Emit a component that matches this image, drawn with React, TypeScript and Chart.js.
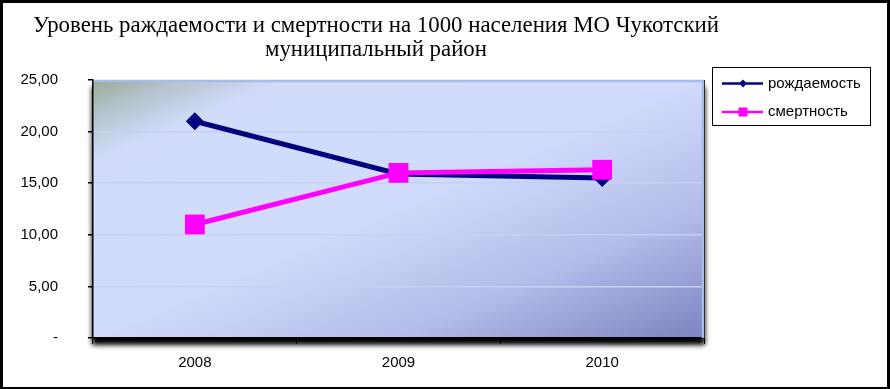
import React, { useEffect, useRef } from 'react';
import { Chart, registerables } from 'chart.js';

Chart.register(...registerables);

const TITLE_LINES = [
  'Уровень раждаемости и смертности на 1000 населения МО Чукотский',
  'муниципальный район',
];
const YEARS = ['2008', '2009', '2010'];
const BIRTH_RATE = [21.0, 15.9, 15.5];
const DEATH_RATE = [11.0, 16.0, 16.3];
const SERIES_NAMES = ['рождаемость', 'смертность'];
const SERIES_COLORS = ['#000080', '#ff00ff'];
const Y_MIN = 0;
const Y_MAX = 25;
const Y_STEP = 5;

const SANS = '"Liberation Sans", Arial, sans-serif';

const decorPlugin = {
  id: 'decor',
  beforeDraw(chart: any) {
    const { ctx, width, height, chartArea } = chart;
    const { left, top, right, bottom } = chartArea;
    const w = right - left;
    const h = bottom - top;
    ctx.save();
    ctx.fillStyle = '#ffffff';
    ctx.fillRect(0, 0, width, height);
    ctx.fillStyle = '#000000';
    ctx.fillRect(0, 0, width, 3);
    ctx.fillRect(0, 0, 3, height);
    ctx.fillRect(width - 3, 0, 3, height);
    ctx.fillRect(0, height - 2, width, 2);
    ctx.restore();

    // plot shadow
    ctx.save();
    ctx.shadowColor = 'rgba(0,0,0,1)';
    ctx.shadowBlur = 5;
    ctx.shadowOffsetX = 0;
    ctx.shadowOffsetY = 7;
    ctx.fillStyle = '#000000';
    ctx.fillRect(left - 1, top, w + 2, h);
    ctx.restore();

    // plot gradient
    ctx.save();
    ctx.translate(left, top);
    ctx.scale(w, h);
    const g = ctx.createLinearGradient(0, 0, 1, 1);
    g.addColorStop(0, '#97ab92');
    g.addColorStop(0.07, '#b4c3cc');
    g.addColorStop(0.16, '#d2dcfa');
    g.addColorStop(0.5, '#d0dafc');
    g.addColorStop(0.75, '#b3bbe8');
    g.addColorStop(1, '#7c84c2');
    ctx.fillStyle = g;
    ctx.fillRect(0, 0, 1, 1);
    ctx.restore();

    // title
    ctx.save();
    ctx.fillStyle = '#000000';
    ctx.font = '24px "Liberation Serif", "DejaVu Serif", serif';
    ctx.textAlign = 'center';
    ctx.textBaseline = 'alphabetic';
    const measured = ctx.measureText(TITLE_LINES[0]).width;
    const sx = 686 / measured;
    const baselines = [31.5, 55.5];
    TITLE_LINES.forEach((line, i) => {
      ctx.save();
      ctx.translate(376, baselines[i]);
      ctx.scale(sx, 1);
      ctx.fillText(line, 0, 0);
      ctx.restore();
    });
    ctx.restore();
  },
  beforeDatasetsDraw(chart: any) {
    const { ctx, chartArea } = chart;
    const { left, top, right, bottom } = chartArea;
    ctx.save();
    ctx.strokeStyle = '#a6bde9';
    ctx.lineWidth = 2.5;
    ctx.beginPath();
    ctx.moveTo(left + 1, top + 1);
    ctx.lineTo(right - 1, top + 1);
    ctx.lineTo(right - 1, bottom);
    ctx.stroke();
    ctx.restore();
  },
  afterDraw(chart: any) {
    const { ctx } = chart;
    ctx.save();
    ctx.fillStyle = '#ffffff';
    ctx.fillRect(712, 67, 159, 59);
    ctx.strokeStyle = '#000000';
    ctx.lineWidth = 1;
    ctx.strokeRect(712.5, 67.5, 158, 58);
    const rows = [83.5, 112];
    SERIES_NAMES.forEach((name, i) => {
      const y = rows[i];
      ctx.strokeStyle = SERIES_COLORS[i];
      ctx.fillStyle = SERIES_COLORS[i];
      ctx.lineWidth = 2.5;
      ctx.beginPath();
      ctx.moveTo(722, y);
      ctx.lineTo(763, y);
      ctx.stroke();
      if (i === 0) {
        ctx.beginPath();
        ctx.moveTo(743 - 4, y);
        ctx.lineTo(743, y - 4);
        ctx.lineTo(743 + 4, y);
        ctx.lineTo(743, y + 4);
        ctx.closePath();
        ctx.fill();
      } else {
        ctx.fillRect(743 - 4.5, y - 4.5, 9, 9);
      }
      ctx.fillStyle = '#000000';
      ctx.font = '15px ' + SANS;
      ctx.textAlign = 'left';
      ctx.textBaseline = 'middle';
      ctx.fillText(name, 768, y);
    });
    ctx.restore();
  },
};

export default function App() {
  const ref = useRef<HTMLCanvasElement | null>(null);
  useEffect(() => {
    if (!ref.current) return;
    Chart.defaults.font.family = SANS;
    const chart = new Chart(ref.current, {
      type: 'line',
      data: {
        labels: YEARS,
        datasets: [
          {
            label: SERIES_NAMES[0],
            data: BIRTH_RATE,
            borderColor: SERIES_COLORS[0],
            backgroundColor: SERIES_COLORS[0],
            borderWidth: 5,
            pointStyle: 'rectRot',
            pointRadius: 9,
            pointBorderWidth: 0,
            pointHoverRadius: 9,
            order: 2,
            tension: 0,
          },
          {
            label: SERIES_NAMES[1],
            data: DEATH_RATE,
            borderColor: SERIES_COLORS[1],
            backgroundColor: SERIES_COLORS[1],
            borderWidth: 5,
            pointStyle: 'rect',
            pointRadius: 14,
            pointBorderWidth: 0,
            pointHoverRadius: 14,
            order: 1,
            tension: 0,
          },
        ],
      },
      options: {
        responsive: false,
        animation: false,
        layout: { padding: { left: 0, top: 80, right: 186, bottom: 0 } },
        plugins: {
          legend: { display: false },
          title: { display: false },
          tooltip: { enabled: false },
        },
        scales: {
          x: {
            offset: true,
            grid: {
              offset: true,
              drawOnChartArea: false,
              drawTicks: true,
              tickLength: 6,
              tickColor: '#000000',
            },
            border: { color: '#000000', width: 1.5 },
            ticks: {
              color: '#000000',
              font: { size: 15 },
              padding: 10,
              maxRotation: 0,
            },
            afterFit: (s: any) => {
              s.height = 51;
            },
          },
          y: {
            min: Y_MIN,
            max: Y_MAX,
            grid: {
              color: (c: any) =>
                c.tick && (c.tick.value === Y_MIN || c.tick.value === Y_MAX)
                  ? 'rgba(0,0,0,0)'
                  : '#c6d1f2',
              lineWidth: 1.5,
              drawTicks: true,
              tickLength: 5,
              tickColor: '#000000',
            },
            border: { color: '#000000', width: 1.5 },
            ticks: {
              stepSize: Y_STEP,
              color: '#000000',
              font: { size: 15 },
              padding: 30,
              callback: (v: any) =>
                Number(v) === 0 ? '-' : Number(v).toFixed(2).replace('.', ','),
            },
            afterFit: (s: any) => {
              s.width = 93;
            },
          },
        },
      },
      plugins: [decorPlugin],
    });
    return () => chart.destroy();
  }, []);
  return (
    <div style={{ position: 'absolute', left: 0, top: 0, width: 890, height: 389 }}>
      <canvas ref={ref} width={890} height={389} style={{ display: 'block' }} />
    </div>
  );
}
